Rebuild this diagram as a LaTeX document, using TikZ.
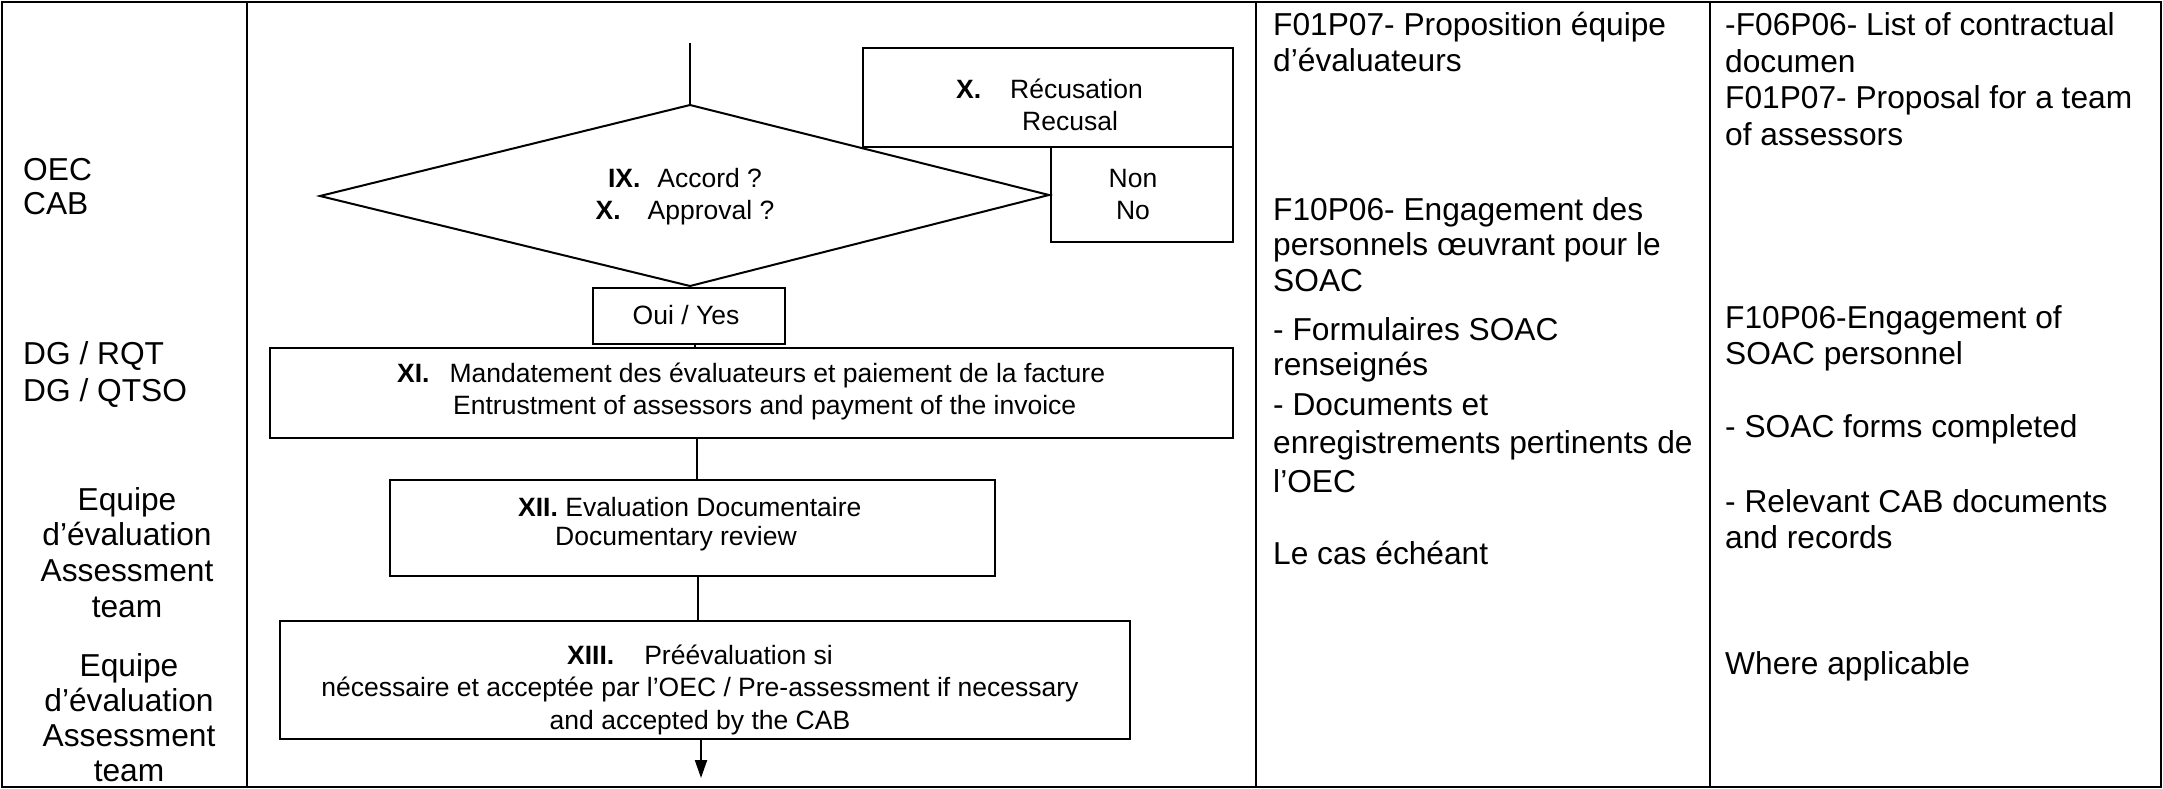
\documentclass[tikz,border=0pt]{standalone}
\usepackage{fontspec}
\setmainfont{Liberation Sans}
\usetikzlibrary{arrows.meta}
\newcommand\colsz{\fontsize{31.7}{36.5}\selectfont}
\newcommand\boxsz{\fontsize{26.5}{32}\selectfont}
\newcommand\tl[2]{\vtop{\baselineskip=#1\relax\lineskiplimit=-1000pt\relax\let\\\cr\halign{##\hfil\cr#2\crcr}}}
\newcommand\tcen[2]{\vtop{\baselineskip=#1\relax\lineskiplimit=-1000pt\relax\let\\\cr\halign{\hfil##\hfil\cr#2\crcr}}}
\begin{document}
\begin{tikzpicture}[x=1pt,y=-1pt,
  tbl/.style={line width=2.4pt},
  box/.style={draw,line width=2pt,inner sep=0pt,anchor=north west},
  conn/.style={line width=2pt},
  txt/.style={inner sep=0pt,anchor=base west},
  ctxt/.style={inner sep=0pt,anchor=base}]
\useasboundingbox (0,0) rectangle (2163,789);
% table
\draw[tbl] (2,2) rectangle (2161,787);
\draw[tbl] (247,2) -- (247,787);
\draw[tbl] (1256,2) -- (1256,787);
\draw[tbl] (1710,2) -- (1710,787);
% left column
\node[txt] (oec) at (23,180) {\colsz\tl{34pt}{OEC\\CAB}};
\node[txt] (dg) at (23,364) {\colsz\tl{37pt}{DG / RQT\\DG / QTSO}};
\node[ctxt] (eq1) at (127,510) {\colsz\tcen{35.7pt}{Equipe\\d’évaluation\\Assessment\\team}};
\node[ctxt] (eq2) at (129,676) {\colsz\tcen{35pt}{Equipe\\d’évaluation\\Assessment\\team}};
% column 3
\node[txt] (c3a) at (1273,36) {\colsz\tl{36pt}{F01P07- Proposition équipe\\d'évaluateurs}};
\node[txt] (c3b) at (1273,220) {\colsz\tl{35.5pt}{F10P06- Engagement des\\personnels œuvrant pour le\\SOAC}};
\node[txt] (c3c) at (1273,340) {\colsz\tl{35.5pt}{- Formulaires SOAC\\renseignés}};
\node[txt] (c3d) at (1273,415) {\colsz\tl{38.5pt}{- Documents et\\enregistrements pertinents de\\l’OEC}};
\node[txt] (c3e) at (1273,564) {\colsz Le cas échéant};
% column 4
\node[txt] (c4a) at (1725,36) {\colsz\tl{36.5pt}{-F06P06- List of contractual\\documen\\F01P07- Proposal for a team\\of assessors}};
\node[txt] (c4b) at (1725,328) {\colsz\tl{36pt}{F10P06-Engagement of\\SOAC personnel}};
\node[txt] (c4c) at (1725,437) {\colsz - SOAC forms completed};
\node[txt] (c4d) at (1725,512) {\colsz\tl{36pt}{- Relevant CAB documents\\and records}};
\node[txt] (c4e) at (1725,674) {\colsz Where applicable};
% flowchart
\coordinate (dL) at (320,196);
\coordinate (dT) at (690,105);
\coordinate (dR) at (1049,195);
\coordinate (dB) at (690,286);
\draw[conn] (dT) -- (dR) -- (dB) -- (dL) -- cycle;
\node[ctxt] (dia) at (685,187) {\boxsz\tcen{32pt}{\textbf{IX.}\hspace{17pt}Accord ?\\\textbf{X.}\hspace{27pt}Approval ?}};
\coordinate (start) at (690,43);
\draw[conn] (start) -- (dT);
\node[box,minimum width=370pt,minimum height=99pt] (rec) at (862,47) {};
\node[txt] (rectxt) at (956,99) {\boxsz\tl{32pt}{\textbf{X.}\hspace{29pt}Récusation\\\hspace{66pt}Recusal}};
\node[box,minimum width=182pt,minimum height=95pt] (non) at (1050,146) {};
\node[ctxt] (nontxt) at (1133,187) {\boxsz\tcen{32pt}{Non\\No}};
\node[box,minimum width=192pt,minimum height=56pt] (oui) at (592,287) {};
\node[ctxt] (ouitxt) at (686,324) {\boxsz Oui / Yes};
\node[box,minimum width=963pt,minimum height=90pt] (xi) at (269,347) {};
\node[txt] (xitxt) at (397,382) {\boxsz\tl{32pt}{\textbf{XI.}\hspace{20pt}Mandatement des évaluateurs et paiement de la facture\\\hspace{56pt}Entrustment of assessors and payment of the invoice}};
\node[box,minimum width=605pt,minimum height=96pt] (xii) at (389,479) {};
\node[txt] (xiitxt) at (518,516) {\boxsz\tl{29pt}{\textbf{XII.} Evaluation Documentaire\\\hspace{37pt}Documentary review}};
\node[box,minimum width=850pt,minimum height=118pt] (xiii) at (279,620) {};
\node[ctxt] (xiiitxt) at (700,664) {\boxsz\tcen{32.5pt}{\textbf{XIII.}\hspace{30pt}Préévaluation si\\nécessaire et acceptée par l'OEC / Pre-assessment if necessary\\and accepted by the CAB}};
\coordinate (c1) at (695,0);
\coordinate (c2) at (697,0);
\coordinate (c3) at (698,0);
\coordinate (end) at (701,778);
\draw[conn] (oui.south -| c1) -- (xi.north -| c1);
\draw[conn] (xi.south -| c2) -- (xii.north -| c2);
\draw[conn] (xii.south -| c3) -- (xiii.north -| c3);
\draw[conn,-{Triangle[length=18pt,width=12pt]}] (xiii.south -| end) -- (end);
\end{tikzpicture}
\end{document}
